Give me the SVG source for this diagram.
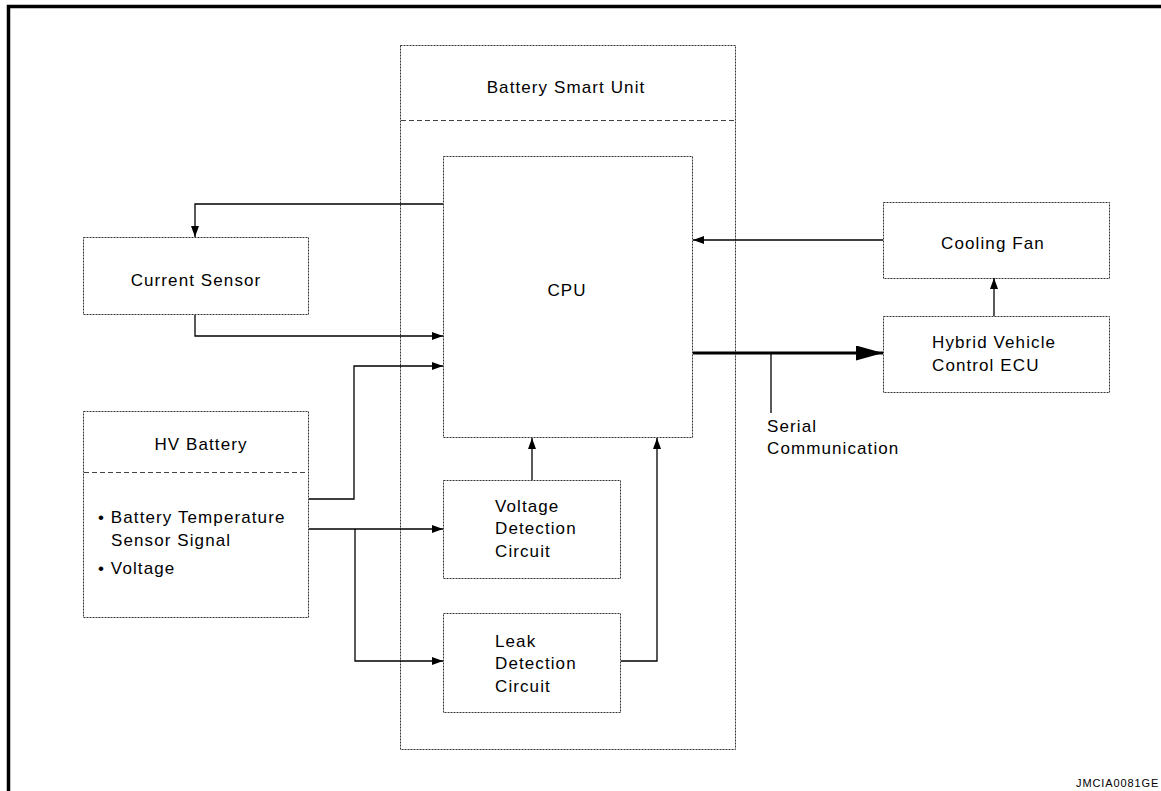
<svg xmlns="http://www.w3.org/2000/svg" width="1161" height="791" viewBox="0 0 1161 791">
<defs>
<style>
.box{fill:#fff;stroke:#333;stroke-width:1;stroke-dasharray:2 1}
.sep{fill:none;stroke:#444;stroke-width:1;stroke-dasharray:5 3}
.t{font-family:"Liberation Sans",Arial,sans-serif;font-size:17px;letter-spacing:1.1px;fill:#000}
.c{text-anchor:middle}
.ln{fill:none;stroke:#000;stroke-width:1.3}
.thick{fill:none;stroke:#000;stroke-width:3}
</style>
<marker id="ah" markerUnits="userSpaceOnUse" markerWidth="11" markerHeight="8" refX="11" refY="4" orient="auto">
<path d="M0,0 L11,4 L0,8 z" fill="#000"/>
</marker>
<marker id="ahb" markerUnits="userSpaceOnUse" markerWidth="27" markerHeight="15" refX="27" refY="7.5" orient="auto">
<path d="M0,0 L27,7.5 L0,15 z" fill="#000"/>
</marker>
</defs>
<rect width="1161" height="791" fill="#fff"/>
<path d="M8.5,791 V6.5 H1161" fill="none" stroke="#000" stroke-width="3.5"/>

<g id="battery-smart-unit">
<rect class="box" x="400.5" y="45.5" width="335" height="704"/>
<line class="sep" x1="401" y1="120.5" x2="735" y2="120.5"/>
<text class="t c" x="566" y="93">Battery Smart Unit</text>
</g>

<g id="cpu">
<rect class="box" x="443.5" y="156.5" width="249" height="281"/>
<text class="t c" x="567" y="296">CPU</text>
</g>

<g id="voltage-detection">
<rect class="box" x="443.5" y="480.5" width="177" height="98"/>
<text class="t" x="495" y="512">Voltage</text>
<text class="t" x="495" y="534">Detection</text>
<text class="t" x="495" y="557">Circuit</text>
</g>

<g id="leak-detection">
<rect class="box" x="443.5" y="613.5" width="177" height="99"/>
<text class="t" x="495" y="647">Leak</text>
<text class="t" x="495" y="669">Detection</text>
<text class="t" x="495" y="692">Circuit</text>
</g>

<g id="current-sensor">
<rect class="box" x="83.5" y="237.5" width="225" height="77"/>
<text class="t c" x="196" y="286">Current Sensor</text>
</g>

<g id="hv-battery">
<rect class="box" x="83.5" y="411.5" width="225" height="206"/>
<line class="sep" x1="84" y1="472.5" x2="308" y2="472.5"/>
<text class="t c" x="201" y="450">HV Battery</text>
<text class="t" x="98" y="523">• Battery Temperature</text>
<text class="t" x="111" y="546">Sensor Signal</text>
<text class="t" x="98" y="574">• Voltage</text>
</g>

<g id="cooling-fan">
<rect class="box" x="883.5" y="202.5" width="226" height="76"/>
<text class="t c" x="993" y="249">Cooling Fan</text>
</g>

<g id="hybrid-ecu">
<rect class="box" x="883.5" y="316.5" width="226" height="76"/>
<text class="t" x="932" y="348">Hybrid Vehicle</text>
<text class="t" x="932" y="371">Control ECU</text>
</g>

<g id="serial-label">
<text class="t" x="767" y="432">Serial</text>
<text class="t" x="767" y="454">Communication</text>
</g>

<g id="connectors">
<path class="ln" d="M443,204 H195 V237" marker-end="url(#ah)"/>
<path class="ln" d="M195,315 V336 H443" marker-end="url(#ah)"/>
<path class="ln" d="M309,499 H354 V366 H443" marker-end="url(#ah)"/>
<path class="ln" d="M309,529 H443" marker-end="url(#ah)"/>
<path class="ln" d="M355,529 V661 H443" marker-end="url(#ah)"/>
<path class="ln" d="M532,480 V438" marker-end="url(#ah)"/>
<path class="ln" d="M621,661 H657 V438" marker-end="url(#ah)"/>
<path class="ln" d="M883,240 H693" marker-end="url(#ah)"/>
<path class="ln" d="M994,316 V278" marker-end="url(#ah)"/>
<path class="thick" d="M693,353 H883" marker-end="url(#ahb)"/>
<path class="ln" d="M771,353 V413"/>
</g>

<text x="1076" y="787" font-family="Liberation Sans,Arial,sans-serif" font-size="11" letter-spacing="0.9" fill="#000">JMCIA0081GE</text>
</svg>
